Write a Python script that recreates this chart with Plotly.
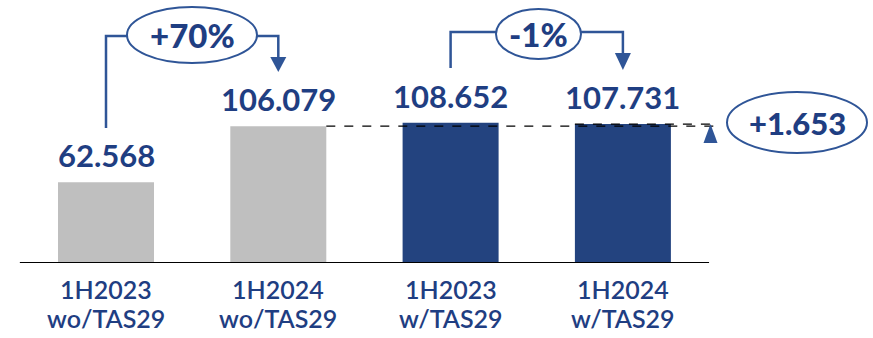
import plotly.graph_objects as go

# --- data -------------------------------------------------------------
categories = ["1H2023", "1H2024", "1H2023", "1H2024"]
scopes = ["wo/TAS29", "wo/TAS29", "w/TAS29", "w/TAS29"]
values = [62.568, 106.079, 108.652, 107.731]
change_labels = ["+70%", "-1%"]
gap_label = "+1.653"

# --- styling ----------------------------------------------------------
GREY = "#BFBFBF"
NAVY = "#23437F"
TEXT = "#1F3E82"
LINE = "#2F5597"
bar_colors = [GREY, GREY, NAVY, NAVY]
FONT = "Lato"

W, H = 873, 338
BOTTOM = 75
PX_PER_X = 172.3      # horizontal pixels per category
X0_PX = 106           # pixel centre of first category
BASE_PX = H - BOTTOM  # pixel row of the value axis zero
PX_PER_Y = 1.29       # vertical pixels per unit of value


def xd(px):
    return (px - X0_PX) / PX_PER_X


def yd(py):
    return (BASE_PX - py) / PX_PER_Y


def py_paper(py):
    return (BASE_PX - py) / BASE_PX


idx = list(range(len(values)))
BAR_W = 96 / PX_PER_X

fig = go.Figure(
    go.Bar(
        x=idx,
        y=values,
        width=BAR_W,
        marker=dict(color=bar_colors, line=dict(width=0)),
        hoverinfo="skip",
    )
)

shapes = []
annotations = []

# baseline
shapes.append(dict(type="line", xref="x", yref="y", x0=-0.5, x1=3.5, y0=0, y1=0,
                   line=dict(color="black", width=2.2)))

# dashed reference lines
half = BAR_W / 2
shapes.append(dict(type="line", xref="x", yref="y", x0=1 + half, x1=xd(718),
                   y0=values[1], y1=values[1], line=dict(color="black", width=1.2, dash="dash")))
shapes.append(dict(type="line", xref="x", yref="y", x0=3 - half, x1=xd(718),
                   y0=values[3], y1=values[3], line=dict(color="black", width=1.2, dash="dash")))

# value labels above bars
for i, v in zip(idx, values):
    annotations.append(dict(x=i, y=v, xref="x", yref="y", text=f"{v:.3f}",
                            showarrow=False, yanchor="middle", yshift=27,
                            font=dict(family=FONT, size=31, color=TEXT, weight=700)))

# category labels (two lines)
for i, (c, s) in enumerate(zip(categories, scopes)):
    annotations.append(dict(x=i, y=py_paper(289), xref="x", yref="paper", text=c,
                            showarrow=False, yanchor="middle",
                            font=dict(family=FONT, size=25, color=TEXT, weight=600)))
    annotations.append(dict(x=i, y=py_paper(318), xref="x", yref="paper", text=s,
                            showarrow=False, yanchor="middle",
                            font=dict(family=FONT, size=25, color=TEXT, weight=600)))


def arrow_down(xc, y_base_px, y_tip_px, half_px=8):
    hx = half_px / PX_PER_X
    return dict(type="path", xref="x", yref="y",
                path=f"M {xc - hx},{yd(y_base_px)} L {xc + hx},{yd(y_base_px)} L {xc},{yd(y_tip_px)} Z",
                fillcolor=LINE, line=dict(width=0))


def bracket(i_from, i_to, top_px, start_px, arrow_base_px, arrow_tip_px,
            ell_cx_px, ell_half_w, ell_cy_px, ell_half_h, label, size):
    xl, xr = i_from, i_to
    exl = xd(ell_cx_px - ell_half_w)
    exr = xd(ell_cx_px + ell_half_w)
    ln = dict(color=LINE, width=2.5)
    out = [
        dict(type="path", xref="x", yref="y",
             path=f"M {xl},{yd(start_px)} L {xl},{yd(top_px)} L {exl},{yd(top_px)}", line=ln),
        dict(type="path", xref="x", yref="y",
             path=f"M {exr},{yd(top_px)} L {xr},{yd(top_px)} L {xr},{yd(arrow_base_px)}", line=ln),
        dict(type="circle", xref="x", yref="y", x0=exl, x1=exr,
             y0=yd(ell_cy_px + ell_half_h), y1=yd(ell_cy_px - ell_half_h),
             line=dict(color=LINE, width=2), fillcolor="white"),
        arrow_down(xr, arrow_base_px, arrow_tip_px),
    ]
    ann = dict(x=xd(ell_cx_px), y=yd(ell_cy_px), xref="x", yref="y", text=label,
               showarrow=False, font=dict(family=FONT, size=size, color=TEXT, weight=900))
    return out, ann


s1, a1 = bracket(0, 1, 36, 128, 57, 72, 192, 65, 35, 28, change_labels[0], 33)
s2, a2 = bracket(2, 3, 32, 68, 53, 70, 538.5, 42.5, 34, 25, change_labels[1], 33)
shapes += s1 + s2
annotations += [a1, a2]

# increase marker and gap bubble
hx = 7 / PX_PER_X
xc = xd(710.5)
shapes.append(dict(type="path", xref="x", yref="y",
                   path=f"M {xc - hx},{yd(143)} L {xc + hx},{yd(143)} L {xc},{yd(124)} Z",
                   fillcolor=LINE, line=dict(width=0)))
shapes.append(dict(type="circle", xref="x", yref="y", x0=xd(727), x1=xd(867),
                   y0=yd(153), y1=yd(92), line=dict(color=LINE, width=2), fillcolor="white"))
annotations.append(dict(x=xd(797), y=yd(122.5), xref="x", yref="y", text=gap_label,
                        showarrow=False, font=dict(family=FONT, size=31, color=TEXT, weight=900)))

fig.update_layout(
    width=W, height=H,
    margin=dict(l=0, r=0, t=0, b=BOTTOM),
    paper_bgcolor="white", plot_bgcolor="white",
    showlegend=False,
    xaxis=dict(range=[xd(0), xd(W)], visible=False, fixedrange=True),
    yaxis=dict(range=[0, yd(0)], visible=False, fixedrange=True),
    shapes=shapes,
    annotations=annotations,
)

fig.write_html("out.html")
